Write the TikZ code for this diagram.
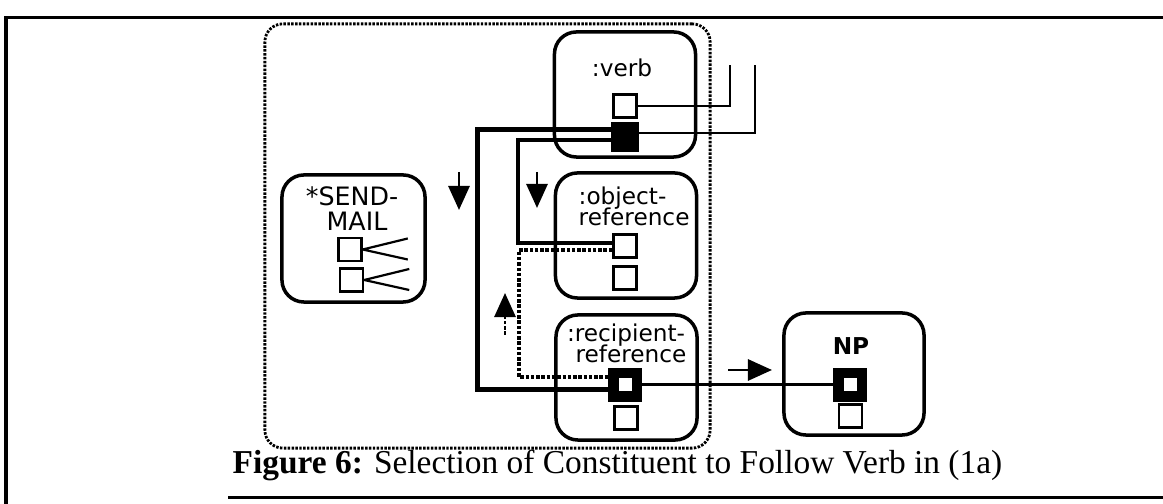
\documentclass[tikz,border=0pt]{standalone}
\usepackage{fontspec}
\setmainfont{Liberation Serif}
\newfontfamily\guifont{DejaVu Sans}
\usetikzlibrary{arrows.meta}
\begin{document}
\begin{tikzpicture}[x=0.01cm, y=-0.01cm, line cap=butt, line join=miter, >={Triangle[length=0.24cm, width=0.21cm]}]
	\tikzset{box/.style={draw, line width=0.035cm, rounded corners=0.22cm, inner sep=0, minimum width=1.41cm, minimum height=1.25cm},
		port/.style={draw, line width=0.025cm, inner sep=0, minimum size=0.23cm},
		bigport/.style={draw, line width=0.1cm, inner sep=0, minimum size=0.23cm},
		tag/.style={font=\guifont\fontsize{6.6}{7}\selectfont, inner sep=0, anchor=base},
		wire/.style={line width=0.022cm},
		grain/.style={dash pattern=on 1pt off 0.5pt},
		cue/.style={->, line width=0.028cm}}
	\useasboundingbox (0,0) rectangle (1163,504);
	% page frame
	\draw[line width=0.03cm] (1163,18) -- (6,18) -- (6,504);
	\draw[line width=0.03cm] (228,498) -- (1163,498);
	% the case frame
	\node[draw, dash pattern=on 0.7pt off 0.4pt, line width=0.028cm, rounded corners=0.18cm, inner sep=0, minimum width=4.45cm, minimum height=4.24cm] (frame) at (487.5,236) {};
	\node[box, minimum width=1.43cm, minimum height=1.27cm] (sendmail) at (353.5,238.5) {};
	\node[box] (verb) at (625,94.5) {};
	\node[box] (objref) at (626,235.5) {};
	\node[box] (recref) at (626.5,377.5) {};
	\node[box, minimum width=1.4cm, minimum height=1.22cm] (np) at (854,374) {};
	% labels
	\node[tag, font=\guifont\fontsize{7.2}{8}\selectfont] (smA) at (352,206) {*SEND-};
	\node[tag, font=\guifont\fontsize{7.2}{8}\selectfont] (smB) at (357,231) {MAIL};
	\node[tag] (vbA) at (622,77) {:verb};
	\node[tag, anchor=base west] (orA) at (578,205) {:object-};
	\node[tag, anchor=base west] (orB) at (578,226) {reference};
	\node[tag] (rrA) at (626,342) {:recipient-};
	\node[tag] (rrB) at (631,363) {reference};
	\node[tag, font=\guifont\bfseries\fontsize{6.6}{7}\selectfont] (npA) at (851,355) {NP};
	% slots
	\node[port] (sm1) at (350,249.5) {};
	\node[port] (sm2) at (351.5,280) {};
	\node[port] (vb1) at (625,106) {};
	\node[port, fill=black, minimum width=0.25cm, minimum height=0.27cm] (vb2) at (625,137) {};
	\node[port] (or1) at (625,246) {};
	\node[port] (or2) at (625,278) {};
	\node[bigport] (rr1) at (625,385) {};
	\node[port] (rr2) at (626,418) {};
	\node[bigport] (np1) at (850,385) {};
	\node[port] (np2) at (850.5,416) {};
	\coordinate (in1) at (730,65);
	\coordinate (in2) at (755,65);
	% connections
	\foreach \s in {sm1,sm2}
		\draw[wire] (\s.east) -- ++(45,-11) (\s.east) -- ++(45,10);
	\draw[wire] (vb1.east) -| (in1);
	\draw[wire] ([yshift=0.04cm]vb2.east) -| (in2);
	\draw[line width=0.05cm] ([yshift=0.07cm]vb2.west) -| (477,260) |- ([yshift=-0.05cm]rr1.west);
	\draw[line width=0.04cm] ([yshift=-0.03cm]vb2.west) -| (518,200) |- ([yshift=0.03cm]or1.west);
	\draw[line width=0.045cm, grain] ([yshift=-0.04cm]or1.west) -| (519,320) |- ([yshift=0.08cm]rr1.west);
	\draw[line width=0.03cm] (rr1.east) -- (np1.west);
	% direction cues
	\draw[cue] (459,172) -- (459,210);
	\draw[cue] (537,172) -- (537,208);
	\draw[cue, grain] (505,335) -- (505,293);
	\draw[cue] (728,370) -- (772,370);
	\node[anchor=base west, inner sep=0, font=\fontsize{9.5}{11}\selectfont] (cap) at (232,474) {\textbf{Figure 6:} Selection of Constituent to Follow Verb in (1a)};
\end{tikzpicture}
\end{document}
